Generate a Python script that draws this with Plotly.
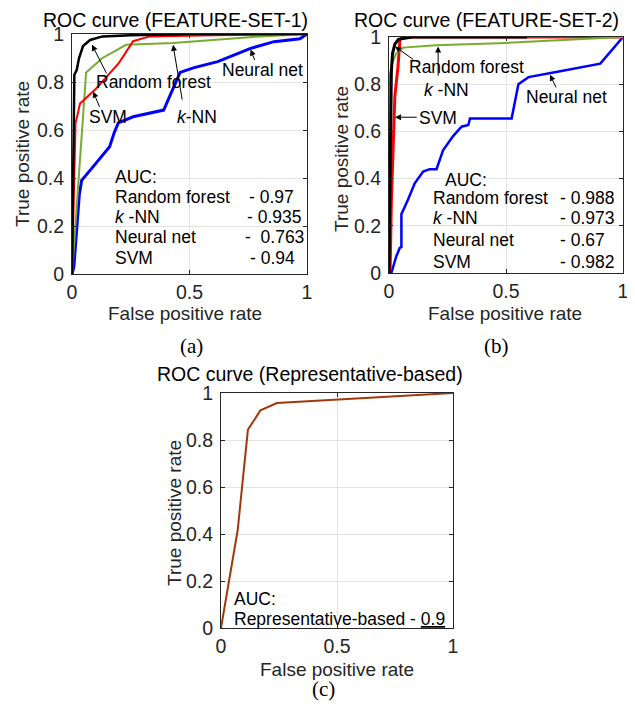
import plotly.graph_objects as go

# page body has an 8px default margin, so the figure is drawn at (8,8)
OFF = 8
W, H = 635 - OFF, 709 - OFF

# ---------------- Data ----------------
# Panel (a) FEATURE-SET-1
a_rf_x = [0, 0.005, 0.01, 0.02, 0.03, 0.047, 0.077, 0.13, 0.25, 0.5, 1]
a_rf_y = [0, 0.5, 0.83, 0.85, 0.9, 0.95, 0.975, 0.99, 0.995, 1, 1]
a_svm_x = [0, 0.01, 0.015, 0.025, 0.034, 0.1, 0.2, 0.26, 0.33, 0.6, 1]
a_svm_y = [0, 0.5, 0.63, 0.67, 0.71, 0.77, 0.88, 0.97, 0.99, 0.995, 1]
a_knn_x = [0, 0.027, 0.06, 0.13, 0.23, 0.43, 0.8, 1]
a_knn_y = [0, 0.36, 0.84, 0.9, 0.955, 0.962, 0.99, 1]
a_nn_x = [0, 0.008, 0.031, 0.041, 0.084, 0.133, 0.16, 0.18, 0.197, 0.26, 0.39, 0.46, 0.52, 0.62, 0.76, 0.86, 0.97, 1]
a_nn_y = [0, 0.03, 0.33, 0.39, 0.44, 0.50, 0.53, 0.59, 0.63, 0.655, 0.683, 0.84, 0.86, 0.885, 0.94, 0.968, 0.98, 1]

# Panel (b) FEATURE-SET-2
b_rf_x = [0, 0.005, 0.01, 0.015, 0.025, 0.04, 0.1, 0.59]
b_rf_y = [0, 0.6, 0.85, 0.93, 0.97, 0.99, 1, 1]
b_svm_x = [0, 0.005, 0.01, 0.018, 0.025, 0.038, 0.047, 0.06, 1]
b_svm_y = [0, 0.02, 0.3, 0.52, 0.75, 0.87, 0.99, 1, 1]
b_knn_x = [0, 0.002, 0.01, 0.03, 0.06, 0.2, 0.5, 1]
b_knn_y = [0, 0.82, 0.88, 0.93, 0.955, 0.965, 0.975, 1]
b_nn_x = [0, 0.01, 0.031, 0.046, 0.053, 0.053, 0.067, 0.081, 0.11, 0.146, 0.174, 0.203, 0.231, 0.274, 0.31,
          0.339, 0.346, 0.524, 0.553, 0.596, 0.703, 0.903, 1]
b_nn_y = [0, 0, 0.07, 0.106, 0.11, 0.25, 0.28, 0.31, 0.38, 0.43, 0.44, 0.44, 0.52, 0.58, 0.62,
          0.627, 0.655, 0.655, 0.80, 0.83, 0.85, 0.887, 1]

# Panel (c) Representative-based
c_x = [0, 0.072, 0.116, 0.17, 0.241, 1]
c_y = [0, 0.417, 0.844, 0.926, 0.957, 1]

auc_a_labels = ["Random forest", "<i>k</i> -NN", "Neural net", "SVM"]
auc_a_values = ["- 0.97", "- 0.935", "-  0.763", "- 0.94"]
auc_b_labels = ["Random forest", "<i>k</i> -NN", "Neural net", "SVM"]
auc_b_values = ["- 0.988", "- 0.973", "- 0.67", "- 0.982"]

# ---------------- Styles ----------------
BLACK, RED, GREEN, BLUE, BROWN = "#000000", "#FF0000", "#77AC30", "#0000FF", "#A0380C"
FONT = "Liberation Sans, Arial, sans-serif"
SERIF = "Liberation Serif, Times New Roman, serif"

fig = go.Figure()

def px2x(px):
    return (px - OFF) / W

def px2y(py):
    return 1 - (py - OFF) / H

panels = {
    "a": dict(x0=72, x1=307, y0=34, y1=274),
    "b": dict(x0=389, x1=623, y0=37, y1=273),
    "c": dict(x0=221, x1=453, y0=393, y1=628),
}
axis_ids = {"a": ("x", "y"), "b": ("x2", "y2"), "c": ("x3", "y3")}

def add_line(panel, xs, ys, color, width):
    xa, ya = axis_ids[panel]
    fig.add_trace(go.Scatter(x=xs, y=ys, mode="lines", line=dict(color=color, width=width),
                             xaxis=xa, yaxis=ya, showlegend=False, hoverinfo="skip"))

add_line("a", a_nn_x, a_nn_y, BLUE, 3)
add_line("a", a_knn_x, a_knn_y, GREEN, 2)
add_line("a", a_svm_x, a_svm_y, RED, 2)
add_line("a", a_rf_x, a_rf_y, BLACK, 2.5)

add_line("b", b_nn_x, b_nn_y, BLUE, 2.5)
add_line("b", b_svm_x, b_svm_y, RED, 3)
add_line("b", b_knn_x, b_knn_y, GREEN, 2)
add_line("b", b_rf_x, b_rf_y, BLACK, 3)

add_line("c", c_x, c_y, BROWN, 2)

layout_axes = {}
for i, key in enumerate(["a", "b", "c"]):
    p = panels[key]
    sfx = "" if i == 0 else str(i + 1)
    common = dict(range=[0, 1], showline=True, mirror="ticks", linecolor="#262626", linewidth=1,
                  ticks="inside", ticklen=4, tickcolor="#262626", showgrid=True, gridcolor="#E3E3E3",
                  zeroline=False, tickfont=dict(family=FONT, size=19.5, color="#262626"), fixedrange=True)
    layout_axes["xaxis" + sfx] = dict(common, domain=[px2x(p["x0"]), px2x(p["x1"])],
                                      anchor="y" + sfx, tickvals=[0, 0.5, 1], ticktext=["0", "0.5", "1"],
                                      ticklabelstandoff=1)
    layout_axes["yaxis" + sfx] = dict(common, domain=[px2y(p["y1"]), px2y(p["y0"])],
                                      anchor="x" + sfx, tickvals=[0, 0.2, 0.4, 0.6, 0.8, 1],
                                      ticktext=["0", "0.2", "0.4", "0.6", "0.8", "1"],
                                      ticklabelstandoff=3)

fig.update_layout(width=W, height=H, autosize=False,
                  margin=dict(l=0, r=0, t=0, b=0, pad=0, autoexpand=False),
                  paper_bgcolor="white", plot_bgcolor="white", showlegend=False, **layout_axes)

ann = []

def paper_text(px, py, text, size=19, font=FONT, color="#000000", angle=0, xanchor="center", yanchor="middle"):
    ann.append(dict(x=px2x(px), y=px2y(py), xref="paper", yref="paper", text=text, showarrow=False,
                    font=dict(family=font, size=size, color=color), textangle=angle,
                    xanchor=xanchor, yanchor=yanchor))

# titles (top of text box at the top of the figure)
paper_text(175, 7, "ROC curve (FEATURE-SET-1)", size=19.5, yanchor="top")
paper_text(487, 7, "ROC curve (FEATURE-SET-2)", size=19.5, yanchor="top")
paper_text(310, 374, "ROC curve (Representative-based)", size=19.5)
# axis titles
paper_text(185, 313, "False positive rate", size=19, color="#262626")
paper_text(505, 313, "False positive rate", size=19, color="#262626")
paper_text(337, 669, "False positive rate", size=19, color="#262626")
paper_text(23, 154, "True positive rate", size=19, color="#262626", angle=-90)
paper_text(341, 159, "True positive rate", size=19, color="#262626", angle=-90)
paper_text(174, 513, "True positive rate", size=19, color="#262626", angle=-90)
# captions
paper_text(191, 346, "(a)", size=21, font=SERIF)
paper_text(496, 346, "(b)", size=21, font=SERIF)
paper_text(323, 689, "(c)", size=21, font=SERIF)

def data_text(panel, x, y, text, xanchor="left", size=17.5):
    xa, ya = axis_ids[panel]
    ann.append(dict(x=x, y=y, xref=xa, yref=ya, text=text, showarrow=False,
                    font=dict(family=FONT, size=size, color="#000000"), xanchor=xanchor, yanchor="middle"))

def arrow(panel, x, y, tx, ty, text, txa, tya):
    """arrow head at (x,y); tail at (tx,ty); label centred at (txa,tya)."""
    xa, ya = axis_ids[panel]
    ann.append(dict(x=x, y=y, ax=tx, ay=ty, xref=xa, yref=ya, axref=xa, ayref=ya, text="",
                    showarrow=True, arrowhead=2, arrowsize=1.2, arrowwidth=1, arrowcolor="#000000"))
    data_text(panel, txa, tya, text, xanchor="center")

# panel (a) curve labels
arrow("a", 0.085, 0.955, 0.15, 0.83, "Random forest", 0.345, 0.80)
arrow("a", 0.09, 0.76, 0.12, 0.69, "SVM", 0.155, 0.655)
arrow("a", 0.43, 0.955, 0.47, 0.72, "<i>k</i>-NN", 0.53, 0.655)
arrow("a", 0.76, 0.935, 0.78, 0.885, "Neural net", 0.81, 0.85)

# panel (b) curve labels
arrow("b", 0.026, 0.96, 0.11, 0.9, "Random forest", 0.332, 0.874)
arrow("b", 0.21, 0.96, 0.21, 0.83, "<i>k</i> -NN", 0.246, 0.775)
arrow("b", 0.026, 0.66, 0.125, 0.66, "SVM", 0.21, 0.655)
arrow("b", 0.688, 0.84, 0.717, 0.78, "Neural net", 0.76, 0.747)

# AUC blocks
data_text("a", 0.175, 0.405, "AUC:")
a_rows_y = [0.32, 0.238, 0.155, 0.067]
a_vals_x = [0.743, 0.736, 0.726, 0.75]
for lab, val, yy, vx in zip(auc_a_labels, auc_a_values, a_rows_y, a_vals_x):
    data_text("a", 0.175, yy, lab)
    data_text("a", vx, yy, val)

data_text("b", 0.232, 0.394, "AUC:")
b_rows_y = [0.316, 0.232, 0.14, 0.048]
for lab, val, yy in zip(auc_b_labels, auc_b_values, b_rows_y):
    data_text("b", 0.178, yy, lab)
    data_text("b", 0.724, yy, val)

data_text("c", 0.047, 0.125, "AUC:")
data_text("c", 0.047, 0.04, "Representative-based - <u>0.9</u>")

fig.update_layout(annotations=ann)
fig.write_html("out.html")
